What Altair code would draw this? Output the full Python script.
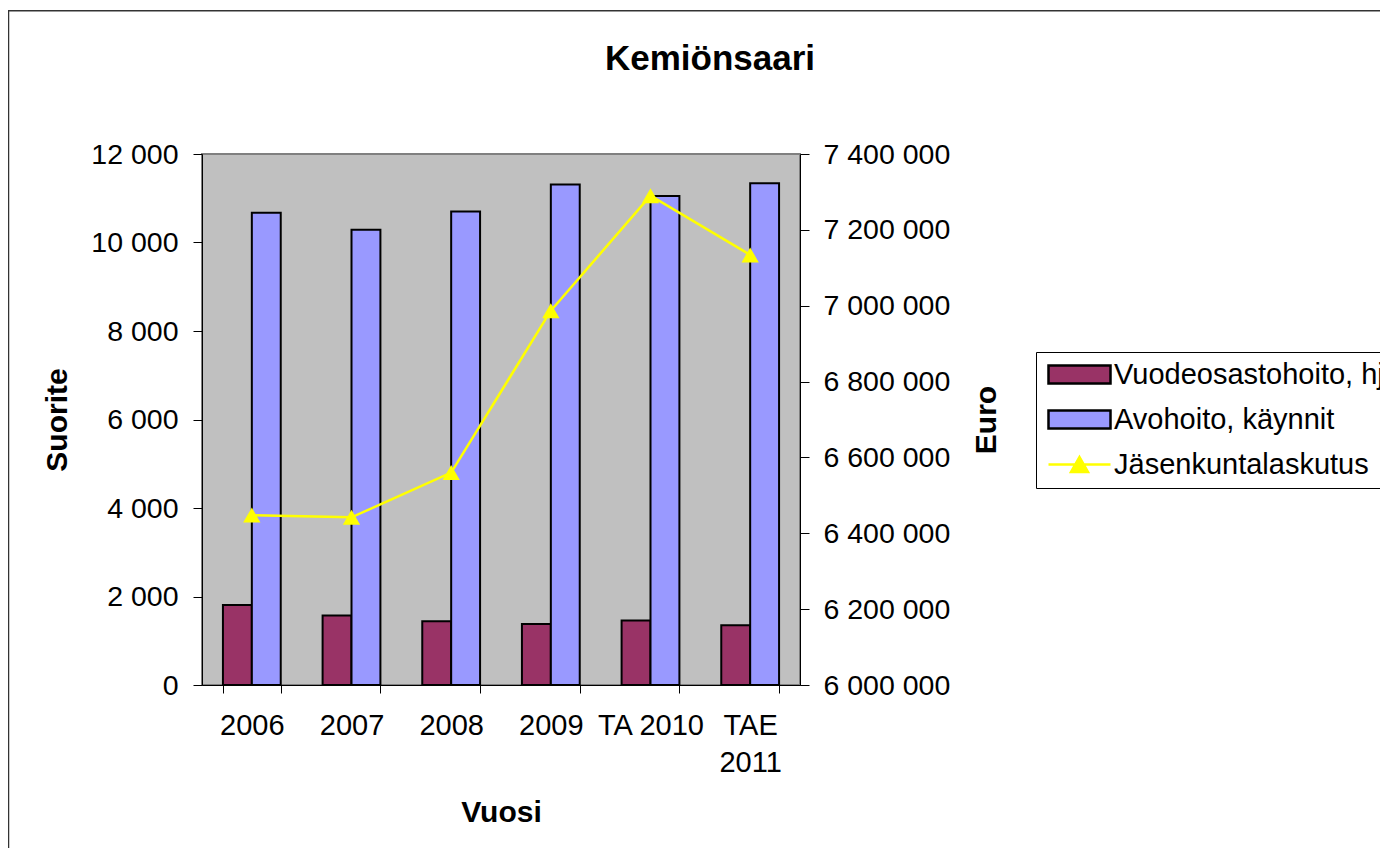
import altair as alt
import pandas as pd

# ---- data ----
years = ["2006", "2007", "2008", "2009", "TA 2010", "TAE 2011"]
ward_days = [1810, 1570, 1440, 1380, 1460, 1350]
outpatient_visits = [10670, 10290, 10700, 11310, 11050, 11340]
member_billing = [6448000, 6442000, 6560000, 6987000, 7290000, 7134000]

series_names = ["Vuodeosastohoito, hjp", "Avohoito, käynnit", "Jäsenkuntalaskutus"]
series_colors = ["#993366", "#9999ff", "#ffff00"]
series_strokes = ["#000000", "#000000", "#ffff00"]

left_ticks = [0, 2000, 4000, 6000, 8000, 10000, 12000]
right_ticks = [6000000, 6200000, 6400000, 6600000, 6800000, 7000000, 7200000, 7400000]

FONT = "Liberation Sans"

bars_df = pd.DataFrame({
    "Vuosi": years * 2,
    "Sarja": [series_names[0]] * len(years) + [series_names[1]] * len(years),
    "Suorite": ward_days + outpatient_visits,
})
line_df = pd.DataFrame({
    "Vuosi": years,
    "Sarja": [series_names[2]] * len(years),
    "Euro": member_billing,
})

color_scale = alt.Scale(domain=series_names, range=series_colors)
stroke_scale = alt.Scale(domain=series_names, range=series_strokes)

rect_path = "M-1,-0.9L5.2,-0.9L5.2,0.9L-1,0.9Z"
line_path = "M-1,0L5.2,0M2.1,-0.75L2.95,0.75L1.25,0.75Z"
is_line = f"datum.value == '{series_names[2]}'"

legend = alt.Legend(
    title=None, orient="none", legendX=834, legendY=198, direction="vertical",
    labelFont=FONT, labelFontSize=29, labelColor="black", labelLimit=800,
    labelOffset=41, symbolSize=400, symbolOffset=0, rowPadding=15, padding=8,
    strokeColor="black", fillColor="white", cornerRadius=0,
    symbolType=alt.ExprRef(f"{is_line} ? '{line_path}' : '{rect_path}'"),
    symbolStrokeWidth=2.5, symbolOpacity=1,
)

x_axis = alt.Axis(
    title="Vuosi", labelAngle=0, labelFont=FONT, labelFontSize=29, labelColor="black",
    labelPadding=18, labelBaseline="top", labelLineHeight=37,
    labelExpr="datum.value == 'TAE 2011' ? ['TAE', '2011'] : datum.label",
    tickSize=8, tickBand="extent", tickColor="black", domainColor="black",
    titleFont=FONT, titleFontSize=30, titleFontWeight="bold", titleColor="black",
    titleBaseline="alphabetic", titleY=136,
)

left_axis = alt.Axis(
    title="Suorite", values=left_ticks, grid=False,
    labelExpr="replace(format(datum.value, ','), ',', ' ')",
    labelFont=FONT, labelFontSize=28.5, labelColor="black", labelPadding=15,
    tickSize=9, tickColor="black", domainColor="black",
    titleFont=FONT, titleFontSize=30, titleFontWeight="bold", titleColor="black",
    titleAngle=270, titleBaseline="middle", titleX=-145, titleY=265.5,
)

right_axis = alt.Axis(
    title="Euro", orient="right", values=right_ticks, grid=False,
    labelExpr="replace(replace(format(datum.value, ','), ',', ' '), ',', ' ')",
    labelFont=FONT, labelFontSize=28.5, labelColor="black", labelPadding=14,
    tickSize=9, tickColor="black", domainColor="black",
    titleFont=FONT, titleFontSize=30, titleFontWeight="bold", titleColor="black",
    titleAngle=270, titleBaseline="middle", titleX=186, titleY=265.5,
)

x_enc = alt.X("Vuosi:N", sort=years,
              scale=alt.Scale(paddingInner=0.42, paddingOuter=0.21), axis=x_axis)

frame = alt.Chart(alt.Data(values=[{}])).mark_rect(
    filled=False, stroke="#333333", strokeWidth=1.5
).encode(
    x=alt.value(-193.5), x2=alt.value(1400),
    y=alt.value(-143.3), y2=alt.value(1000),
)

bars = alt.Chart(bars_df).mark_bar(strokeWidth=2).encode(
    x=x_enc,
    xOffset=alt.XOffset("Sarja:N", sort=series_names[:2]),
    y=alt.Y("Suorite:Q", scale=alt.Scale(domain=[0, 12000], nice=False), axis=left_axis),
    color=alt.Color("Sarja:N", scale=color_scale, legend=legend),
    stroke=alt.Stroke("Sarja:N", scale=stroke_scale, legend=legend),
)

line = alt.Chart(line_df).mark_line(
    strokeWidth=2.5, color=series_colors[2],
    point=alt.OverlayMarkDef(shape="triangle-up", size=300, filled=True, opacity=1,
                             color=series_colors[2]),
).encode(
    x=alt.X("Vuosi:N", sort=years),
    y=alt.Y("Euro:Q", scale=alt.Scale(domain=[6000000, 7400000], nice=False), axis=right_axis),
    detail="Sarja:N",
)

chart = alt.layer(frame, bars, line).resolve_scale(
    y="independent"
).properties(
    width=598, height=531,
    autosize=alt.AutoSizeParams(type="none"),
    padding={"left": 194, "top": 146, "right": 580, "bottom": 163},
    background="white",
    title=alt.Title(
        "Kemiönsaari", font=FONT, fontSize=35, fontWeight="bold", color="black",
        anchor="middle", frame="group", baseline="alphabetic", offset=0, dx=209, dy=95,
    ),
).configure(
    font=FONT,
    view=alt.ViewConfig(fill="#c0c0c0", stroke="#808080", strokeWidth=2),
)

chart.save("out.html", embed_options={"renderer": "svg", "actions": False})
